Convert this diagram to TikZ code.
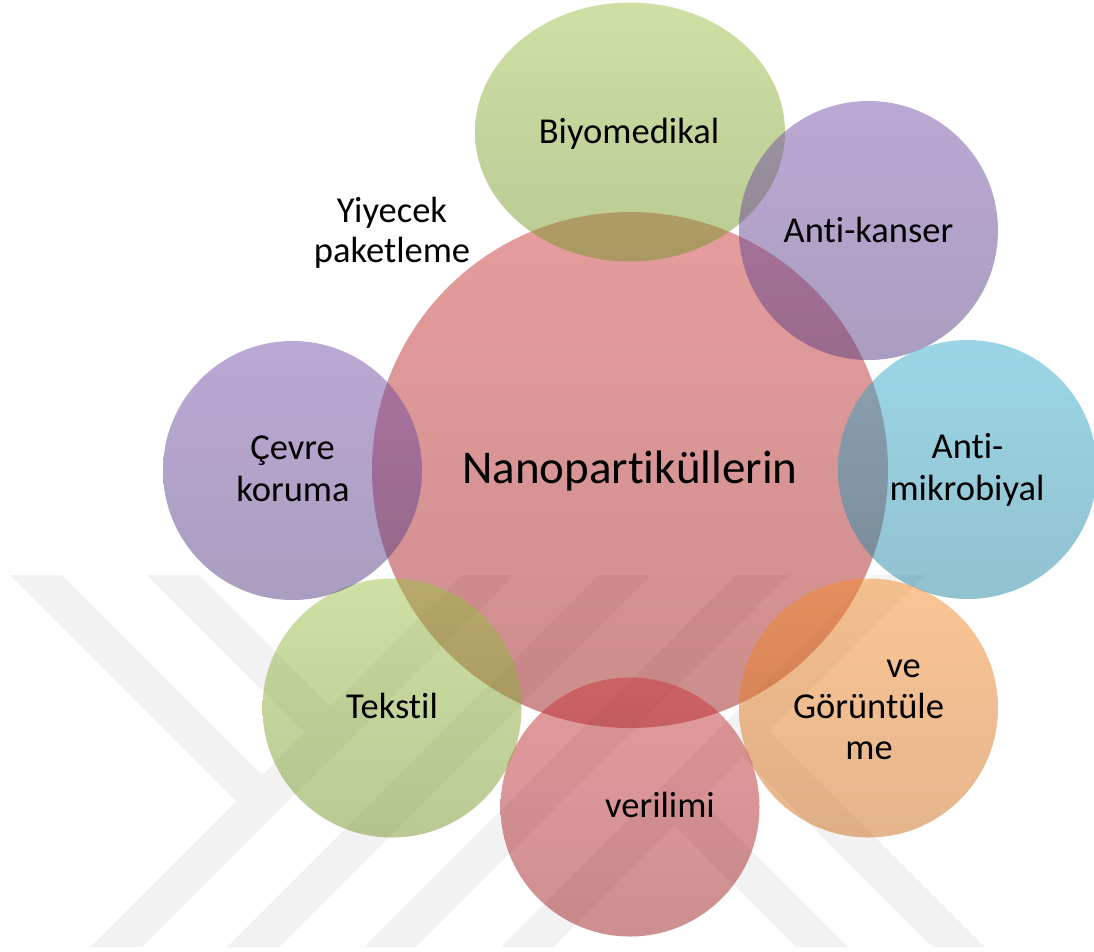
\documentclass[tikz,border=0pt]{standalone}
\usepackage{fontspec}
\setmainfont{Carlito}[Ligatures=NoCommon]
\usetikzlibrary{shapes.geometric}
\definecolor{wmgray}{RGB}{242,242,242}
\definecolor{cenT}{RGB}{203,59,59}
\definecolor{cenB}{RGB}{155,27,27}
\definecolor{grnT}{RGB}{157,193,71}
\definecolor{grnB}{RGB}{115,149,41}
\definecolor{purT}{RGB}{119,81,169}
\definecolor{purB}{RGB}{85,61,129}
\definecolor{cyaT}{RGB}{55,173,205}
\definecolor{cyaB}{RGB}{35,133,161}
\definecolor{oraT}{RGB}{247,141,45}
\definecolor{oraB}{RGB}{203,107,25}
\definecolor{redT}{RGB}{201,55,59}
\definecolor{redB}{RGB}{155,31,35}
\tikzset{
  wm/.style={fill=wmgray, draw=none},
  bub/.style={circle, draw=none, inner sep=0pt, minimum size=259pt, fill opacity=0.5},
  lbl/.style={font=\fontsize{36.5}{41}\selectfont, inner sep=0pt, anchor=base, text=black},
  biglbl/.style={font=\fontsize{47}{52}\selectfont, inner sep=0pt, anchor=base, text=black}
}
\begin{document}
\begin{tikzpicture}[x=1pt,y=-1pt]
\useasboundingbox (0,0) rectangle (1094,951);
% watermark
\fill[wm] (90,947) -- (142,947) -- (514,575) -- (462,575) -- cycle;
\fill[wm] (227,947) -- (279,947) -- (651,575) -- (599,575) -- cycle;
\fill[wm] (364,947) -- (416,947) -- (788,575) -- (736,575) -- cycle;
\fill[wm] (501,947) -- (553,947) -- (925,575) -- (873,575) -- cycle;
\fill[wm] (10,575) -- (62,575) -- (262,775) -- (236,801) -- cycle;
\fill[wm] (147,575) -- (199,575) -- (330.5,706.5) -- (304.5,732.5) -- cycle;
\fill[wm] (700.5,799.5) -- (848,947) -- (796,947) -- (674.5,825.5) -- cycle;
\fill[wm] (769,731) -- (985,947) -- (933,947) -- (743,757) -- cycle;
% circles
\node[bub, minimum size=516pt, top color=cenT, bottom color=cenB] (cen) at (630,470) {};
\node[bub, ellipse, minimum width=310pt, minimum height=259pt, top color=grnT, bottom color=grnB] (bio) at (630,132) {};
\node[bub, top color=purT, bottom color=purB] (kan) at (868.5,230.5) {};
\node[bub, top color=cyaT, bottom color=cyaB] (mik) at (967.5,469.5) {};
\node[bub, top color=oraT, bottom color=oraB] (gor) at (868.5,708) {};
\node[bub, top color=redT, bottom color=redB] (ver) at (630,807) {};
\node[bub, top color=grnT, bottom color=grnB] (tek) at (392,708) {};
\node[bub, top color=purT, bottom color=purB] (cev) at (292.5,470.5) {};
% labels
\node[biglbl] (tcen) at (630,483) {Nanopartiküllerin};
\node[lbl] (tbio) at (629,143) {Biyomedikal};
\node[lbl] (tkan) at (868.5,242) {Anti-kanser};
\node[lbl] (tmik1) at (967.5,458) {Anti-};
\node[lbl] (tmik2) at (967,500) {mikrobiyal};
\node[lbl] (tgor1) at (903.5,677) {ve};
\node[lbl] (tgor2) at (868.5,718) {Görüntüle};
\node[lbl] (tgor3) at (869,759) {me};
\node[lbl] (tver) at (660,817) {verilimi};
\node[lbl] (ttek) at (392,718) {Tekstil};
\node[lbl] (tcev1) at (292.5,459) {Çevre};
\node[lbl] (tcev2) at (293,501) {koruma};
\node[lbl] (tyiy1) at (392,222) {Yiyecek};
\node[lbl] (tyiy2) at (392,262) {paketleme};
\end{tikzpicture}
\end{document}
